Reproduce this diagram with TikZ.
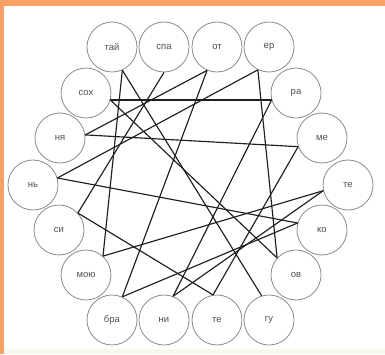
\documentclass[tikz,border=0pt]{standalone}
\usepackage{fontspec}
\setmainfont{Liberation Sans}
\definecolor{framecol}{RGB}{249,160,102}
\definecolor{ringcol}{RGB}{140,140,140}
\definecolor{txtcol}{RGB}{80,80,80}
\definecolor{creamcol}{RGB}{250,248,238}
\begin{document}
\begin{tikzpicture}[x=1pt,y=1pt,
  person/.style={circle,draw=ringcol,line width=0.8pt,minimum size=50pt,inner sep=0pt,
    font=\fontsize{9.5}{10}\selectfont,text=txtcol},
  link/.style={line width=1.15pt,draw=black!88}]
\fill[framecol] (0,0) rectangle (385,354);
\fill[white] (4,0) rectangle (385,348);
\fill[creamcol] (4,0) rectangle (385,5);
\useasboundingbox (0,0) rectangle (385,354);
\node[person] (tai)  at (112,307) {тай};
\node[person] (spa)  at (164,307) {спа};
\node[person] (ot)   at (217,307) {от};
\node[person] (er)   at (269,307) {ер};
\node[person] (ra)   at (296,261) {ра};
\node[person] (me)   at (322,216) {ме};
\node[person] (teR)  at (348,169) {те};
\node[person] (ko)   at (322,124) {ко};
\node[person] (ov)   at (296,79)  {ов};
\node[person] (gu)   at (269,34)  {гу};
\node[person] (teB)  at (217,34)  {те};
\node[person] (ni)   at (164,34)  {ни};
\node[person] (bra)  at (112,34)  {бра};
\node[person] (moyu) at (86,79)   {мою};
\node[person] (si)   at (59,124)  {си};
\node[person] (nye)  at (33,169)  {нь};
\node[person] (nya)  at (60,216)  {ня};
\node[person] (soh)  at (86,261)  {сох};
\draw[link] (soh.-16) -- (ra.196);
\draw[link] (nya.7) -- (me.200);
\draw[link] (er.-116) -- (ov.138);
\draw[link] (tai.-66) -- (moyu.48);
\draw[link] (tai.-66) -- (gu.107);
\draw[link] (soh.-16) -- (ov.138);
\draw[link] (spa.-90) -- (si.42);
\draw[link] (nya.7) -- (ot.-113);
\draw[link] (nye.16) -- (er.-116);
\draw[link] (ot.-113) -- (bra.66);
\draw[link] (ra.196) -- (ni.69);
\draw[link] (me.200) -- (teB.99);
\draw[link] (moyu.48) -- (teR.193);
\draw[link] (nye.16) -- (ko.164);
\draw[link] (bra.66) -- (ko.164);
\draw[link] (si.42) -- (teB.99);
\draw[link] (ni.69) -- (teR.193);
\end{tikzpicture}
\end{document}
